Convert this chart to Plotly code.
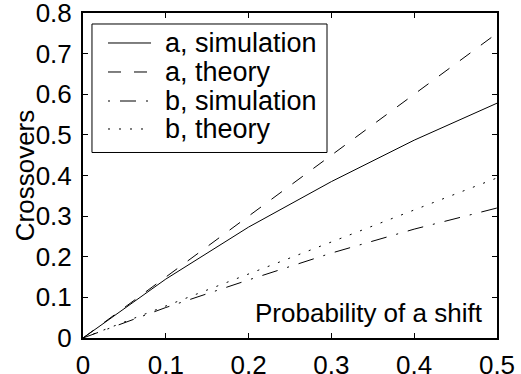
import plotly.graph_objects as go

# Data
x_vals = [0.0, 0.1, 0.2, 0.3, 0.4, 0.5]
a_simulation = [0.0, 0.145, 0.273, 0.385, 0.487, 0.578]
a_theory = [0.0, 0.150, 0.300, 0.450, 0.600, 0.750]
b_simulation = [0.0, 0.075, 0.143, 0.209, 0.268, 0.320]
b_theory = [0.0, 0.079, 0.158, 0.237, 0.316, 0.394]

series_names = ["a, simulation", "a, theory", "b, simulation", "b, theory"]

x_ticks = [0, 0.1, 0.2, 0.3, 0.4, 0.5]
x_tick_text = ["0", "0.1", "0.2", "0.3", "0.4", "0.5"]
y_ticks = [0, 0.1, 0.2, 0.3, 0.4, 0.5, 0.6, 0.7, 0.8]
y_tick_text = ["0", "0.1", "0.2", "0.3", "0.4", "0.5", "0.6", "0.7", "0.8"]

FONT = "Liberation Sans, Arial, Helvetica, sans-serif"
FS = 26
LEG_FS = 27

plot_dashes = ["solid", "13px,13px", "16px,10px,2px,10px", "2px,9px"]
legend_dashes = ["solid", "13px,13px", "2px,10px,16px,10px", "2px,9px"]

fig = go.Figure()
for name, ys, dash in zip(series_names,
                          [a_simulation, a_theory, b_simulation, b_theory],
                          plot_dashes):
    fig.add_trace(go.Scatter(
        x=x_vals, y=ys, mode="lines", name=name, showlegend=False,
        line=dict(color="black", width=1, dash=dash),
    ))

axis_common = dict(
    showline=True, linecolor="black", linewidth=2, mirror="ticks",
    ticks="inside", ticklen=5, tickwidth=1, tickcolor="black",
    showgrid=False, zeroline=False, automargin=False,
    ticklabeloverflow="allow",
    tickfont=dict(family=FONT, size=FS, color="black"),
)

fig.update_xaxes(range=[0, 0.5], tickvals=x_ticks, ticktext=x_tick_text,
                 ticklabelstandoff=3, **axis_common)
fig.update_yaxes(range=[0, 0.8], tickvals=y_ticks, ticktext=y_tick_text,
                 ticklabelstandoff=4, **axis_common)

# y-axis title
fig.add_annotation(
    text="Crossovers", xref="paper", yref="paper", textangle=-90,
    x=-0.140, y=0.498, xanchor="center", yanchor="middle", showarrow=False,
    font=dict(family=FONT, size=FS, color="black"),
)

fig.add_annotation(
    text="Probability of a shift", xref="paper", yref="paper",
    x=0.971, y=0.077, xanchor="right", yanchor="middle", showarrow=False,
    font=dict(family=FONT, size=FS, color="black"),
)

# Legend box (drawn as layout shapes, matching the boxed MATLAB-style legend)
leg_x0, leg_x1, leg_y0, leg_y1 = 0.0217, 0.5894, 0.5708, 0.9662
row_y = [0.9077, 0.8185, 0.7292, 0.6431]
sample_x0, sample_x1, text_x = 0.0604, 0.1643, 0.1932

fig.add_shape(type="rect", xref="paper", yref="paper",
              x0=leg_x0, x1=leg_x1, y0=leg_y0, y1=leg_y1,
              line=dict(color="black", width=1), fillcolor="white", layer="above")
for name, dash, ry in zip(series_names, legend_dashes, row_y):
    fig.add_shape(type="line", xref="paper", yref="paper",
                  x0=sample_x0, x1=sample_x1, y0=ry, y1=ry,
                  line=dict(color="black", width=1, dash=dash), layer="above")
    fig.add_annotation(text=name, xref="paper", yref="paper",
                       x=text_x, y=ry, xanchor="left", yanchor="middle",
                       showarrow=False,
                       font=dict(family=FONT, size=LEG_FS, color="black"))

fig.update_layout(
    width=521, height=374,
    margin=dict(l=83, r=24, t=13, b=36),
    paper_bgcolor="white", plot_bgcolor="white",
    showlegend=False,
)

fig.write_html("out.html",
               config={"displayModeBar": False},
               post_script="document.body.style.margin='0';document.body.style.overflow='hidden';")
